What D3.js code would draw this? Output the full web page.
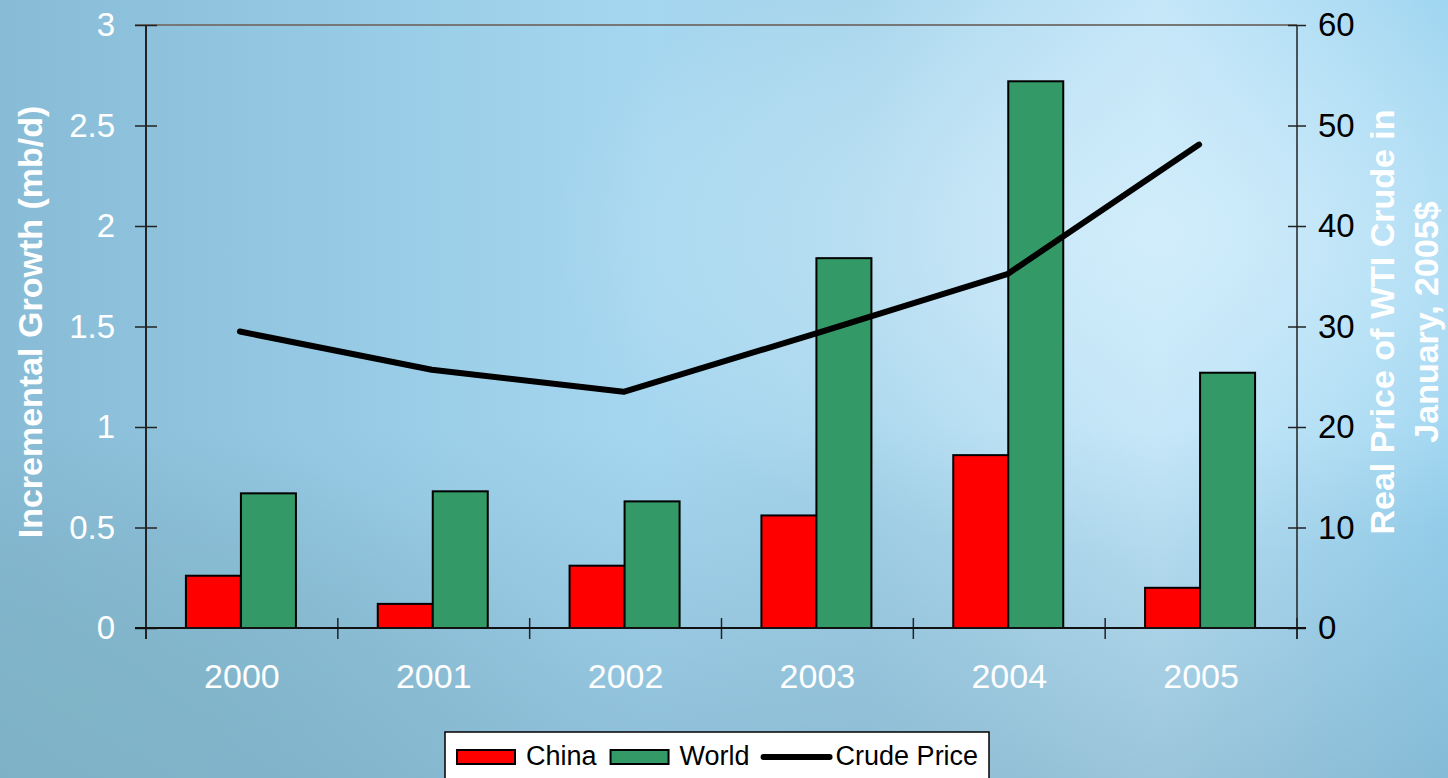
<!DOCTYPE html>
<html>
<head>
<meta charset="utf-8">
<script src="https://cdn.jsdelivr.net/npm/d3@7/dist/d3.min.js"></script>
<style>
  body { margin: 0; padding: 0; overflow: hidden; }
  svg { display: block; font-family: "Liberation Sans", Arial, sans-serif; }
</style>
</head>
<body>
<div id="chart-area"></div>
<script>

// Data
var years = ["2000", "2001", "2002", "2003", "2004", "2005"];
var china = [0.26, 0.12, 0.31, 0.56, 0.86, 0.20];
var world = [0.67, 0.68, 0.63, 1.84, 2.72, 1.27];
var crude = [29.5, 25.7, 23.5, 29.3, 35.2, 48.1];

var leftTicks = [0, 0.5, 1, 1.5, 2, 2.5, 3];
var rightTicks = [0, 10, 20, 30, 40, 50, 60];

var seriesNames = ["China", "World"];
var seriesColors = ["#ff0000", "#339966"];

// SVG drawing area
var W = 1448, H = 778;
var plot = {left: 146, right: 1297, top: 25, bottom: 628};

var svg = d3.select("#chart-area").append("svg")
    .attr("width", W)
    .attr("height", H);

// Background
var defs = svg.append("defs");

var bgLin = defs.append("linearGradient").attr("id", "bgLin")
    .attr("x1", 0).attr("y1", 0).attr("x2", 1).attr("y2", 0);
bgLin.append("stop").attr("offset", "0%").attr("stop-color", "#88bcd6");
bgLin.append("stop").attr("offset", "20%").attr("stop-color", "#94c8e2");
bgLin.append("stop").attr("offset", "45%").attr("stop-color", "#a6d7f0");
bgLin.append("stop").attr("offset", "60%").attr("stop-color", "#a4d3ea");
bgLin.append("stop").attr("offset", "80%").attr("stop-color", "#bfe4f7");
bgLin.append("stop").attr("offset", "100%").attr("stop-color", "#98d2ef");

var bgGlow = defs.append("radialGradient").attr("id", "bgGlow")
    .attr("cx", 0.8).attr("cy", 0.3).attr("r", 0.42);
bgGlow.append("stop").attr("offset", "0%").attr("stop-color", "#d6effc").attr("stop-opacity", 0.8);
bgGlow.append("stop").attr("offset", "100%").attr("stop-color", "#d6effc").attr("stop-opacity", 0);

var bgDark = defs.append("linearGradient").attr("id", "bgDark")
    .attr("x1", 0).attr("y1", 0).attr("x2", 0).attr("y2", 1);
bgDark.append("stop").attr("offset", "55%").attr("stop-color", "#6f9fb8").attr("stop-opacity", 0);
bgDark.append("stop").attr("offset", "100%").attr("stop-color", "#6f9fb8").attr("stop-opacity", 0.45);

var bgCorner = defs.append("radialGradient").attr("id", "bgCorner")
    .attr("cx", 0.05).attr("cy", 0.9).attr("r", 0.35);
bgCorner.append("stop").attr("offset", "0%").attr("stop-color", "#7fb3c4").attr("stop-opacity", 0.7);
bgCorner.append("stop").attr("offset", "100%").attr("stop-color", "#7fb3c4").attr("stop-opacity", 0);

svg.append("rect").attr("width", W).attr("height", H).attr("fill", "url(#bgLin)");
svg.append("rect").attr("width", W).attr("height", H).attr("fill", "url(#bgGlow)");
svg.append("rect").attr("width", W).attr("height", H).attr("fill", "url(#bgDark)");
svg.append("rect").attr("width", W).attr("height", H).attr("fill", "url(#bgCorner)");


// Scales
var x = d3.scaleBand()
    .domain(years)
    .range([plot.left, plot.right])
    .padding(0);

var x1 = d3.scaleBand()
    .domain(seriesNames)
    .range([0, 110]);

var y = d3.scaleLinear()
    .domain([0, 3])
    .range([plot.bottom, plot.top]);

var y2 = d3.scaleLinear()
    .domain([0, 60])
    .range([plot.bottom, plot.top]);


// Top border of the plot area
svg.append("line")
    .attr("x1", plot.left - 11).attr("x2", plot.right)
    .attr("y1", plot.top).attr("y2", plot.top)
    .attr("stroke", "#777").attr("stroke-width", 2);


// Bars
var rows = years.map(function(d, i) {
    return {year: d, values: [china[i], world[i]]};
});

var groups = svg.selectAll("g.group").data(rows)
    .enter().append("g")
    .attr("class", "group")
    .attr("transform", function(d) {
        return "translate(" + (x(d.year) + (x.bandwidth() - 110) / 2 - 1) + ",0)";
    });

groups.selectAll("rect")
    .data(function(d) {
        return d.values.map(function(v, j) { return {name: seriesNames[j], value: v, color: seriesColors[j]}; });
    })
    .enter().append("rect")
    .attr("x", function(d) { return x1(d.name); })
    .attr("y", function(d) { return y(d.value); })
    .attr("width", x1.bandwidth())
    .attr("height", function(d) { return y(0) - y(d.value); })
    .attr("fill", function(d) { return d.color; })
    .attr("stroke", "#000")
    .attr("stroke-width", 2);


// Axes
var leftAxis = svg.append("g")
    .attr("class", "axis y-axis")
    .attr("transform", "translate(" + plot.left + ",0)")
    .call(d3.axisLeft(y).tickValues(leftTicks).tickSize(11).tickPadding(20)
        .tickFormat(function(d) { return d; }));

var rightAxis = svg.append("g")
    .attr("class", "axis y2-axis")
    .attr("transform", "translate(" + plot.right + ",0)")
    .call(d3.axisRight(y2).tickValues(rightTicks).tickSize(9).tickPadding(12));

var xAxis = svg.append("g")
    .attr("class", "axis x-axis")
    .attr("transform", "translate(0," + plot.bottom + ")")
    .call(d3.axisBottom(x).tickSize(0).tickPadding(36));

// category boundary ticks
svg.append("g").selectAll("line")
    .data(years.concat(["end"]))
    .enter().append("line")
    .attr("x1", function(d, i) { return i < years.length ? x(d) : plot.right; })
    .attr("x2", function(d, i) { return i < years.length ? x(d) : plot.right; })
    .attr("y1", plot.bottom - 10)
    .attr("y2", plot.bottom + 11)
    .attr("stroke", "#222").attr("stroke-width", 1.5);

svg.selectAll(".axis .domain").remove();

leftAxis.selectAll(".tick line").attr("x1", 11).attr("x2", -11)
    .attr("stroke", "#222").attr("stroke-width", 1.5);
rightAxis.selectAll(".tick line").attr("x1", -9).attr("x2", 9)
    .attr("stroke", "#222").attr("stroke-width", 1.5);

leftAxis.selectAll(".tick text")
    .attr("fill", "#fff").attr("font-size", 33).attr("font-family", "Liberation Sans, Arial, sans-serif");
rightAxis.selectAll(".tick text")
    .attr("fill", "#000").attr("font-size", 33).attr("font-family", "Liberation Sans, Arial, sans-serif");
xAxis.selectAll(".tick text")
    .attr("fill", "#fff").attr("font-size", 34).attr("font-family", "Liberation Sans, Arial, sans-serif");

// axis lines
svg.append("line")
    .attr("x1", plot.left).attr("x2", plot.left)
    .attr("y1", plot.top).attr("y2", plot.bottom + 11)
    .attr("stroke", "#222").attr("stroke-width", 2);
svg.append("line")
    .attr("x1", plot.right).attr("x2", plot.right)
    .attr("y1", plot.top).attr("y2", plot.bottom + 11)
    .attr("stroke", "#222").attr("stroke-width", 1.5);
svg.append("line")
    .attr("x1", plot.left - 11).attr("x2", plot.right + 9)
    .attr("y1", plot.bottom).attr("y2", plot.bottom)
    .attr("stroke", "#111").attr("stroke-width", 2);


// Crude price line
var line = d3.line()
    .x(function(d, i) { return x(years[i]) + x.bandwidth() / 2 - 2; })
    .y(function(d) { return y2(d); });

svg.append("path")
    .datum(crude)
    .attr("d", line)
    .attr("fill", "none")
    .attr("stroke", "#000")
    .attr("stroke-width", 6)
    .attr("stroke-linecap", "round")
    .attr("stroke-linejoin", "round");


// Axis titles
svg.append("text")
    .attr("transform", "translate(42,322) rotate(-90)")
    .attr("text-anchor", "middle")
    .attr("fill", "#fff")
    .attr("font-size", 34)
    .attr("font-weight", "bold")
    .text("Incremental Growth (mb/d)");

var rTitle = svg.append("text")
    .attr("transform", "translate(1394,322) rotate(-90)")
    .attr("text-anchor", "middle")
    .attr("fill", "#fff")
    .attr("font-size", 34)
    .attr("font-weight", "bold");
rTitle.append("tspan").attr("x", 0).attr("y", 0).text("Real Price of WTI Crude in");
rTitle.append("tspan").attr("x", 0).attr("y", 44).text("January, 2005$");


// Legend
var legend = svg.append("g").attr("class", "legend");
legend.append("rect")
    .attr("x", 445).attr("y", 732)
    .attr("width", 544).attr("height", 60)
    .attr("fill", "#fff")
    .attr("stroke", "#000").attr("stroke-width", 1.5);

var legendItems = [
    {name: "China", type: "rect", color: seriesColors[0]},
    {name: "World", type: "rect", color: seriesColors[1]},
    {name: "Crude Price", type: "line", color: "#000"}
];

var lx = 457;
legendItems.forEach(function(d) {
    if (d.type === "rect") {
        legend.append("rect")
            .attr("x", lx).attr("y", 750)
            .attr("width", 58).attr("height", 14)
            .attr("fill", d.color)
            .attr("stroke", "#000").attr("stroke-width", 2);
        lx += 69;
    } else {
        legend.append("line")
            .attr("x1", lx).attr("x2", lx + 66)
            .attr("y1", 757).attr("y2", 757)
            .attr("stroke", d.color).attr("stroke-width", 6)
            .attr("stroke-linecap", "round");
        lx += 72;
    }
    var t = legend.append("text")
        .attr("x", lx).attr("y", 765)
        .attr("font-size", 27)
        .attr("fill", "#000")
        .text(d.name);
    lx += t.node().getComputedTextLength() + 14;
});

</script>
</body>
</html>
